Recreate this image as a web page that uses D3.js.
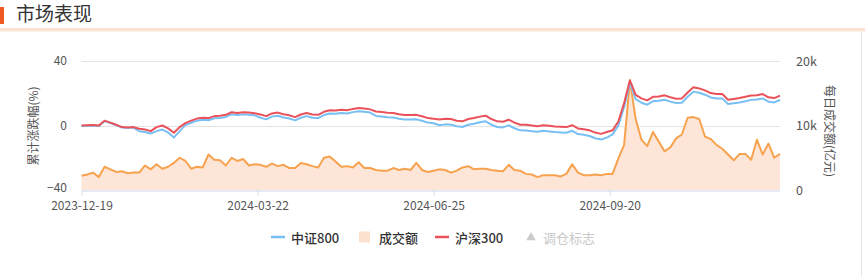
<!DOCTYPE html>
<html><head><meta charset="utf-8">
<script src="https://cdn.jsdelivr.net/npm/d3@7"></script>
<style>
html,body{margin:0;padding:0;background:#fff;}
svg{display:block;font-family:"Noto Sans CJK SC","Noto Sans",sans-serif;}
</style></head>
<body><svg id="c" width="865" height="277"></svg>
<script>
// Tick labels (trading-day index of each label)
const tickLabels = ["2023-12-19", "2024-03-22", "2024-06-25", "2024-09-20"];
const tickDays = [0, 61, 122, 183];
// Sample every 2 trading days
const stepDays = 2;
// 沪深300 cumulative change (%)
const hs300 = [0,0.2,0.3,0,3.0,1.8,0.5,-1.0,-1.2,-1.0,
 -2.0,-2.5,-3.5,-1.0,0.0,-1.8,-4.5,-1.0,1.5,3.0,
 4.3,4.8,4.6,5.8,6.0,6.6,8.2,7.8,8.2,8.0,
 7.6,6.8,5.8,7.5,8.0,7.0,6.3,5.2,6.8,7.8,
 6.8,6.6,8.5,9.4,9.3,9.8,9.5,10.3,10.9,10.5,
 10.0,8.7,8.4,7.9,7.8,7.0,6.5,6.5,6.6,5.7,
 4.6,4.2,3.7,4.2,4.0,3.0,2.6,4.0,4.6,5.5,
 6.1,4.0,2.6,2.3,3.6,1.8,0.5,0.4,0.0,-0.4,
 0.2,-0.2,-0.6,-0.8,-1.0,0.2,-1.8,-2.3,-3.0,-4.4,
 -5.2,-4.0,-3.0,2.5,14.0,28.0,19.0,16.8,15.6,17.8,
 18.0,18.7,17.5,16.6,16.8,20.5,23.7,23.0,21.8,20.1,
 19.5,19.5,16.0,16.5,17.0,17.8,18.6,18.8,19.5,17.5,
 17.0,18.5];
// 中证800 cumulative change (%)
const zz800 = [-0.3,-0.1,0,-0.3,2.7,1.5,0.2,-1.3,-1.5,-1.3,
 -3.5,-4.0,-5.0,-3.5,-2.5,-4.3,-7.5,-3.5,0.2,1.7,
 3.0,3.5,3.3,4.5,4.7,5.3,6.9,6.5,6.9,6.7,
 6.3,4.8,3.8,5.5,6.0,5.0,4.3,3.2,4.8,5.8,
 4.8,4.6,6.5,7.4,7.3,7.8,7.5,8.3,8.9,8.5,
 8.0,5.9,5.6,5.1,5.0,4.2,3.7,3.7,3.8,2.9,
 1.8,1.4,0.2,0.7,0.5,-0.5,-0.9,0.5,1.1,2.0,
 2.6,0.5,-0.9,-1.2,0.1,-1.7,-3.0,-3.1,-3.5,-3.9,
 -3.3,-3.7,-4.1,-4.3,-4.5,-3.3,-5.3,-5.8,-6.5,-7.9,
 -8.7,-7.5,-5.5,0.0,11.5,26.5,16.3,14.1,12.9,15.1,
 15.3,16.0,14.8,13.9,14.1,17.8,21.0,20.3,19.1,17.4,
 16.8,16.8,13.3,13.8,14.3,15.1,15.9,16.1,16.8,14.8,
 14.3,15.8];
// 成交额 daily turnover (亿元)
const turnover = [2200,2400,2700,2000,3600,3200,2800,2900,2600,2700,
 2700,3800,3200,4000,3300,3600,4200,5000,4500,3300,
 3600,3500,5500,4700,4600,3800,5000,4500,4800,3800,
 4000,3900,3600,4100,3700,3900,3400,3400,4200,4000,
 3700,3500,5000,5200,4400,3600,3700,3500,4300,3400,
 3400,3100,3000,3000,3400,3100,3300,3100,4200,3100,
 2800,3000,3200,3100,2700,3000,3500,3700,3200,3300,
 3300,3100,3000,2900,3900,3100,3000,2500,2400,2000,
 2300,2300,2300,2100,2500,4000,2700,2300,2300,2400,
 2300,2500,2500,4900,7000,17000,11000,7800,6800,9000,
 7500,6000,6600,8000,8600,11200,11300,11000,8300,7900,
 7000,6400,5500,4600,5600,5600,4700,7800,5500,7200,
 5000,5600];
const leftTicks = [-40, 0, 40];
const rightTicks = [0, 10000, 20000];
const legendItems = [
  {name: "中证800", type: "line", color: "#78c0f4"},
  {name: "成交额", type: "rect", color: "#fde1cf"},
  {name: "沪深300", type: "line", color: "#e9525a"},
  {name: "调仓标志", type: "tri", color: "#cccccc"}
];

const svg = d3.select("#c");
const W = 865;
// Header
svg.append("rect").attr("x", 0).attr("y", 7).attr("width", 4).attr("height", 17).attr("fill", "#f05a22");
svg.append("text").attr("x", 16).attr("y", 21).attr("font-size", 19).attr("fill", "#333").text("市场表现");
svg.append("rect").attr("x", 0).attr("y", 28).attr("width", W).attr("height", 3.5).attr("fill", "#fde3d4");
svg.append("line").attr("x1", 861.5).attr("x2", 861.5).attr("y1", 32).attr("y2", 277).attr("stroke", "#e6e6e6");

const x = d3.scaleLinear().domain([0, 242]).range([81.5, 780]);
const yL = d3.scaleLinear().domain([-40, 40]).range([190, 61]);
const yR = d3.scaleLinear().domain([0, 20000]).range([190, 61]);

// grid
svg.append("g").selectAll("line").data([0, 40]).join("line")
  .attr("x1", 81.5).attr("x2", 780).attr("y1", d => Math.round(yL(d)) + 0.5).attr("y2", d => Math.round(yL(d)) + 0.5)
  .attr("stroke", "#e3e3e3").attr("stroke-width", 1.2);

// area + turnover line
const xs = (d, i) => x(i * stepDays);
const area = d3.area().x(xs).y0(yR(0)).y1(d => yR(d));
svg.append("path").datum(turnover).attr("d", area).attr("fill", "#fde6d7");
svg.append("path").datum(turnover).attr("d", d3.line().x(xs).y(d => yR(d)))
  .attr("fill", "none").attr("stroke", "#f7a24f").attr("stroke-width", 2).attr("stroke-linejoin", "round");

const lineL = d3.line().x(xs).y(d => yL(d));
svg.append("path").datum(zz800).attr("d", lineL).attr("fill", "none").attr("stroke", "#78c0f4").attr("stroke-width", 2).attr("stroke-linejoin", "round");
svg.append("path").datum(hs300).attr("d", lineL).attr("fill", "none").attr("stroke", "#e9525a").attr("stroke-width", 2).attr("stroke-linejoin", "round");

// x axis
const xAxis = d3.axisBottom(x).tickValues(tickDays).tickFormat((d, i) => tickLabels[i]).tickSize(5).tickSizeOuter(0);
const gx = svg.append("g").attr("transform", "translate(0,190.5)").call(xAxis);
gx.select(".domain").attr("stroke", "#ccd6eb");
gx.selectAll(".tick line").attr("stroke", "#ccd6eb");
gx.selectAll("text").attr("fill", "#555").attr("font-size", 12).attr("dy", "11px").attr("font-family", "Noto Sans CJK SC");

// left axis
const gl = svg.append("g").attr("transform", "translate(67,0)")
  .call(d3.axisLeft(yL).tickValues(leftTicks).tickSize(0).tickPadding(0));
gl.select(".domain").remove();
gl.selectAll("text").attr("fill", "#555").attr("font-size", 12).attr("font-family", "Noto Sans CJK SC")
  .attr("dy", d => d === -40 ? "1.5px" : "0.32em");

// right axis
const gr = svg.append("g").attr("transform", "translate(796,0)")
  .call(d3.axisRight(yR).tickValues(rightTicks).tickSize(0).tickPadding(0).tickFormat(d => d === 0 ? "0" : (d / 1000) + "k"));
gr.select(".domain").remove();
gr.selectAll("text").attr("fill", "#555").attr("font-size", 12.5).attr("font-family", "Noto Sans CJK SC");

// axis titles
svg.append("text").attr("transform", "translate(32,126) rotate(-90)").attr("text-anchor", "middle")
  .attr("dominant-baseline", "central").attr("font-size", 12).attr("fill", "#555").text("累计涨跌幅(%)");
svg.append("text").attr("transform", "translate(830,131) rotate(90)").attr("text-anchor", "middle")
  .attr("dominant-baseline", "central").attr("font-size", 12).attr("fill", "#555").text("每日成交额(亿元)");

// legend
const legX = [271, 359, 435, 526];
const legTextX = [291, 379, 455, 543];
const ly = 237;
const lg = svg.append("g");
legendItems.forEach((it, i) => {
  if (it.type === "line") {
    lg.append("line").attr("x1", legX[i]).attr("x2", legX[i] + 14).attr("y1", ly).attr("y2", ly)
      .attr("stroke", it.color).attr("stroke-width", 2.5);
  } else if (it.type === "rect") {
    lg.append("rect").attr("x", legX[i]).attr("y", ly - 5.5).attr("width", 11).attr("height", 11).attr("fill", it.color);
  } else {
    lg.append("path").attr("d", d3.symbol(d3.symbolTriangle, 40)()).attr("transform", `translate(${legX[i] + 5},${ly + 0.5})`).attr("fill", it.color);
  }
  lg.append("text").attr("x", legTextX[i]).attr("y", ly).attr("dominant-baseline", "central")
    .attr("font-size", 13).attr("font-weight", it.type === "tri" ? 400 : 500)
    .attr("fill", it.type === "tri" ? "#c8c8c8" : "#333").text(it.name);
});
</script></body></html>
